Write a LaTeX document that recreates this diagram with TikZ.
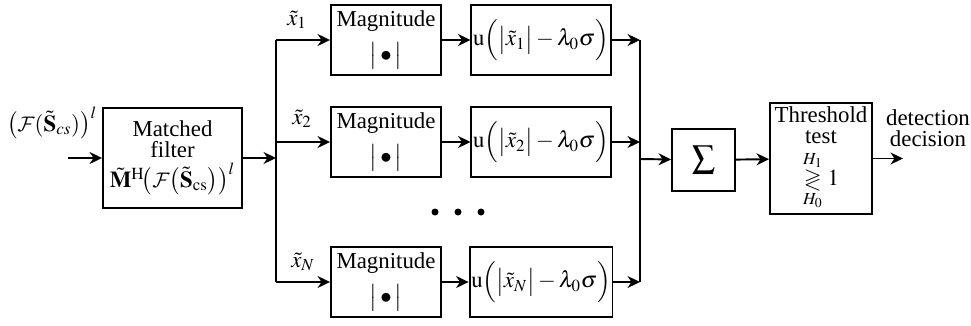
\documentclass[tikz,border=0pt]{standalone}
\usepackage{amsmath,amssymb}
\usepackage{mathptmx}
\DeclareMathAlphabet{\mathcal}{OMS}{cmsy}{m}{n}
\usepackage{fontspec}
\setmainfont{Liberation Serif}
\newfontfamily\tnr{Liberation Serif}
\usetikzlibrary{arrows.meta}

\begin{document}
\begin{tikzpicture}[x=0.02cm,y=-0.02cm,line width=1.1pt,
  font=\tnr\fontsize{13}{15}\selectfont,
  >={Stealth[length=2.5mm,width=2.4mm,inset=0.8mm]},
  blk/.style={draw,align=center,inner sep=1pt},
  magbox/.style={blk,minimum width=2.2cm,minimum height=1.4cm},
  ubox/.style={blk,minimum width=2.64cm,minimum height=1.4cm}]
\useasboundingbox (0,0) rectangle (971,325);

% input and matched filter
\node (inlab) at (52,123) {$\big(\mathcal{F}(\tilde{\mathbf{S}}_{cs})\big)^{l}$};
\coordinate (in) at (68,158);
\node[blk,inner sep=0pt,minimum width=2.78cm,minimum height=2cm] (mf) at (172.5,158)
  {Matched\\[-3pt]filter\\[2pt]$\tilde{\mathbf{M}}^{\mathrm{H}}\!\big(\mathcal{F}\big(\tilde{\mathbf{S}}_{\mathrm{cs}}\big)\big)^{l}$};
\draw[->] (in) -- (mf);

% left bus
\coordinate (bl) at (276,158);
\coordinate (bt) at (276,40);
\coordinate (b2) at (276,142);
\coordinate (bb) at (276,282);
\draw[->] (mf) -- (bl);
\draw (bt) -- (bb);

% magnitude blocks
\node[magbox] (m1) at (386,40) {Magnitude\\[5pt]$\big|\bullet\big|$};
\node[magbox] (m2) at (386,142) {Magnitude\\[5pt]$\big|\bullet\big|$};
\node[magbox] (mN) at (386,282) {Magnitude\\[5pt]$\big|\bullet\big|$};
\draw[->] (bt) -- (m1);
\draw[->] (b2) -- (m2);
\draw[->] (bb) -- (mN);
\node (x1) at (297,20) {$\tilde{x}_1$};
\node (x2) at (302,119) {$\tilde{x}_2$};
\node (xN) at (303,262) {$\tilde{x}_N$};

% threshold functions
\node[ubox] (u1) at (541,40) {$\mathrm{u}\Big(\big|\tilde{x}_1\big|-\lambda_0\sigma\Big)$};
\node[ubox] (u2) at (541,142) {$\mathrm{u}\Big(\big|\tilde{x}_2\big|-\lambda_0\sigma\Big)$};
\node[ubox] (uN) at (541,282) {$\mathrm{u}\Big(\big|\tilde{x}_N\big|-\lambda_0\sigma\Big)$};
\draw[->] (m1) -- (u1);
\draw[->] (m2) -- (u2);
\draw[->] (mN) -- (uN);

% dots
\fill (435,212) circle (0.07cm);
\fill (458,212) circle (0.07cm);
\fill (481,212) circle (0.07cm);

% right bus
\coordinate (r1) at (640,40);
\coordinate (r2) at (640,142);
\coordinate (rN) at (640,282);
\coordinate (rs) at (640,159);
\draw (r1) -- (rN);
\draw[->] (u1) -- (r1);
\draw[->] (u2) -- (r2);
\draw[->] (uN) -- (rN);

% sum and test
\node[blk,minimum width=1.26cm,minimum height=1.24cm] (sig) at (703.5,160) {$\displaystyle\sum$};
\node[blk,minimum width=2.04cm,minimum height=2.22cm] (thr) at (821,158.5)
  {Threshold\\[-3pt]test\\[3pt]$\underset{H_0}{\overset{H_1}{\gtrless}}1$};
\draw[->] (rs) -- (sig);
\draw[->] (sig) -- (thr);
\coordinate (out) at (903,158.5);
\draw[->] (thr) -- (out);
\node[align=center] (dec) at (928,128) {detection\\[-3pt]decision};
\end{tikzpicture}
\end{document}
